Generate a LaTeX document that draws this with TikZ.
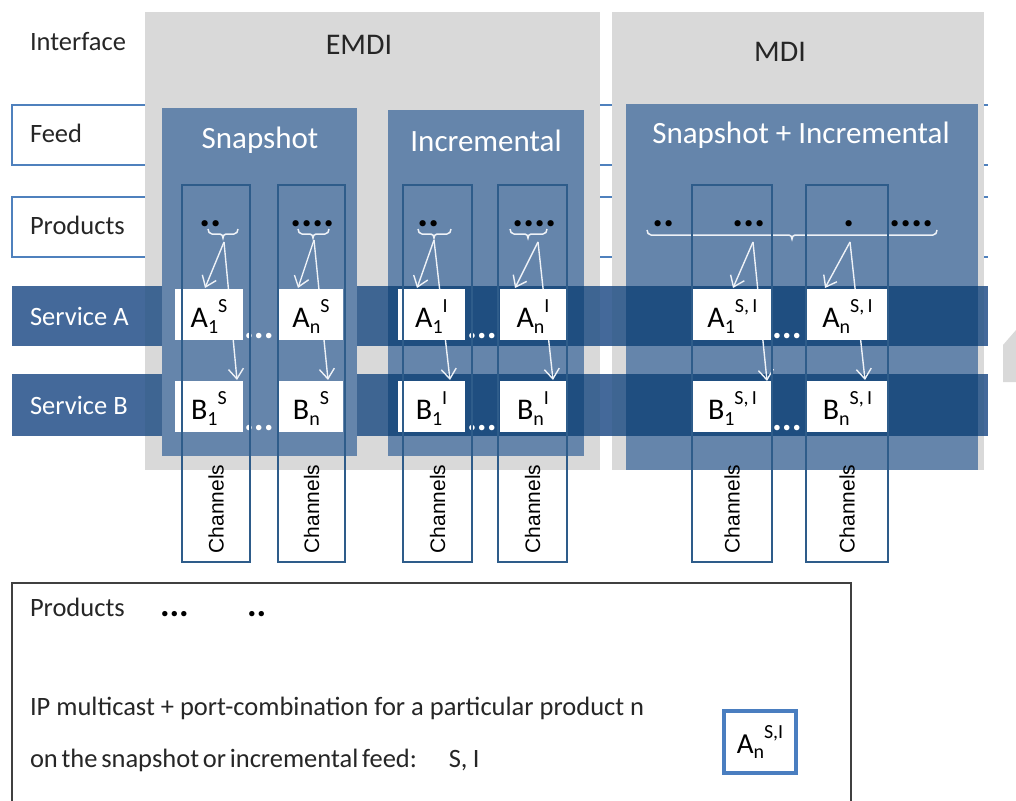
\documentclass[tikz,border=0pt]{standalone}
\usepackage{fontspec}
\setmainfont{Carlito}
\newfontfamily\arialf{Liberation Sans}
\usetikzlibrary{arrows.meta}
\definecolor{gpanel}{HTML}{D9D9D9}
\definecolor{bpanel}{HTML}{6585AB}
\definecolor{bandw}{HTML}{44699A}
\definecolor{bandg}{HTML}{3E6592}
\definecolor{bandd}{HTML}{1F4E80}
\definecolor{cline}{HTML}{2E5C8A}
\definecolor{fline}{HTML}{4F81BD}
\definecolor{lgbox}{HTML}{4A7EC0}
\definecolor{arr}{HTML}{EEF2F7}
\definecolor{txt}{HTML}{262626}
\definecolor{bline}{HTML}{404040}
\newcommand{\fs}[1]{\fontsize{#1}{#1}\selectfont}
\newcommand{\cellt}[3]{#1\raisebox{-0.2em}{\fs{20}#2}\raisebox{0.5em}{\fs{20}#3}}
\begin{document}
\begin{tikzpicture}[x=1pt,y=-1pt,
  every node/.style={inner sep=0pt,outer sep=0pt},
  rowbox/.style={fill=white},
  rowline/.style={draw=fline,line width=1.3pt},
  graypanel/.style={fill=gpanel},
  bluepanel/.style={fill=bpanel},
  cellbox/.style={fill=white,minimum height=51pt,text height=25pt,text depth=0pt,font=\fs{30},text=black},
  chancol/.style={draw=cline,line width=1.2pt},
  chanlbl/.style={rotate=90,font=\arialf\fs{21},text=black},
  lbl/.style={anchor=base west,font=\fs{26.5},text=txt},
  svc/.style={anchor=base west,font=\fs{26.5},text=white},
  ttl/.style={anchor=base,font=\fs{31},text=white},
  hdr/.style={anchor=base,font=\fs{30},text=txt},
  bdots/.style={anchor=base west,font=\fs{42}\bfseries,text=black},
  wdots/.style={anchor=base west,font=\fs{37}\bfseries,text=white},
  arrw/.style={draw=arr,line width=1.4pt,-{Straight Barb[length=10pt,width=15pt]}},
  bracel/.style={draw=arr,line width=1.5pt},
  bodytxt/.style={anchor=base west,font=\fs{26.5},text=txt},
]
\useasboundingbox (0,0) rectangle (1016,800);

% row boxes (right side hidden, only edge stubs show past the MDI panel)
\node[rowbox,anchor=north west,minimum width=976pt,minimum height=60pt] (feedbox) at (12,105) {};
\node[rowbox,anchor=north west,minimum width=976pt,minimum height=60pt] (prodbox) at (12,197) {};
\draw[rowline] (988,105) -| (12,165) -- (988,165);
\draw[rowline] (988,197) -| (12,257) -- (988,257);

% gray interface panels
\node[graypanel,anchor=north west,minimum width=455pt,minimum height=458pt] (emdi) at (145,12) {};
\node[graypanel,anchor=north west,minimum width=372pt,minimum height=458pt] (mdi) at (612,12) {};

% blue feed panels
\node[bluepanel,anchor=north west,minimum width=196pt,minimum height=346pt] (incr) at (388,110) {};
\node[bluepanel,anchor=north west,minimum width=352pt,minimum height=366pt] (snapincr) at (626,104) {};

% service bands, coloured as seen over each background
\foreach \yt/\h in {286/60,374/62} {
  \fill[bandw] (12,\yt) rectangle ++(976,\h);
  \fill[bandg] (145,\yt) rectangle ++(455,\h);
  \fill[bandg] (612,\yt) rectangle ++(372,\h);
  \fill[bandd] (388,\yt) rectangle ++(196,\h);
  \fill[bandd] (626,\yt) rectangle ++(352,\h);
}

% snapshot panel (over the bands)
\node[bluepanel,anchor=north west,minimum width=195pt,minimum height=348pt] (snap) at (162,108) {};

% titles
\node[hdr] (temdi) at (359,55) {EMDI};
\node[hdr] (tmdi) at (780,61) {MDI};
\node[ttl] (tsnap) at (260,148) {Snapshot};
\node[ttl] (tincr) at (486,151) {Incremental};
\node[ttl] (tsi) at (801,143) {Snapshot + Incremental};

% braces
\draw[bracel] (208,229) to[out=-90,in=180] (212,234) -- (220,234) to[out=0,in=90] (223,238) to[out=90,in=180] (226,234) -- (234,234) to[out=0,in=-90] (238,229);
\draw[bracel] (298,229) to[out=-90,in=180] (302,234) -- (310,234) to[out=0,in=90] (313,238) to[out=90,in=180] (316,234) -- (325,234) to[out=0,in=-90] (329,229);
\draw[bracel] (418,229) to[out=-90,in=180] (422,234) -- (431,234) to[out=0,in=90] (434,238) to[out=90,in=180] (437,234) -- (447,234) to[out=0,in=-90] (451,229);
\draw[bracel] (510,229) to[out=-90,in=180] (514,234) -- (525,234) to[out=0,in=90] (528,238) to[out=90,in=180] (531,234) -- (543,234) to[out=0,in=-90] (547,229);
\draw[bracel] (647,230) to[out=-90,in=180] (651,235) -- (789,235) to[out=0,in=90] (792,239) to[out=90,in=180] (795,235) -- (933,235) to[out=0,in=-90] (937,230);

% product dots
\node[bdots] (d1) at (199,226) {..};
\node[bdots] (d2) at (290,226) {....};
\node[bdots] (d3) at (417,226) {..};
\node[bdots] (d4) at (512,226) {....};
\node[bdots] (d5) at (652,226) {..};
\node[bdots] (d6) at (732,226) {...};
\node[bdots] (d7) at (843,226) {.};
\node[bdots] (d8) at (889,226) {....};

% arrow apexes and tips
\coordinate (ap1) at (224,242); \coordinate (ta1) at (205,288); \coordinate (tb1) at (237,380);
\coordinate (ap2) at (314,240); \coordinate (ta2) at (298,288); \coordinate (tb2) at (328,380);
\coordinate (ap3) at (434,240); \coordinate (ta3) at (417,288); \coordinate (tb3) at (450,380);
\coordinate (ap4) at (538,242); \coordinate (ta4) at (515,288); \coordinate (tb4) at (553,380);
\coordinate (ap5) at (753,242); \coordinate (ta5) at (733,288); \coordinate (tb5) at (767,381);
\coordinate (ap6) at (850,242); \coordinate (ta6) at (825,288); \coordinate (tb6) at (865,380);

% arrows to service B (pass behind A cells)
\foreach \i in {1,...,6} { \draw[arrw] (ap\i) -- (tb\i); }

% cells
\node[cellbox,minimum width=68pt] (a1s) at (209,314.5) {\cellt{A}{1}{S}};
\node[cellbox,minimum width=64pt] (ans) at (311,314.5) {\cellt{A}{n}{S}};
\node[cellbox,minimum width=67pt] (a1i) at (431.5,314.5) {\cellt{A}{1}{I}};
\node[cellbox,minimum width=66pt] (ani) at (533,314.5) {\cellt{A}{n}{I}};
\node[cellbox,minimum width=79pt] (a1si) at (732.5,314.5) {\cellt{A}{1}{S,\,I}};
\node[cellbox,minimum width=81pt] (ansi) at (847.5,314.5) {\cellt{A}{n}{S,\,I}};
\node[cellbox,minimum width=68pt] (b1s) at (209,406.5) {\cellt{B}{1}{S}};
\node[cellbox,minimum width=64pt] (bns) at (311,406.5) {\cellt{B}{n}{S}};
\node[cellbox,minimum width=67pt] (b1i) at (431.5,406.5) {\cellt{B}{1}{I}};
\node[cellbox,minimum width=66pt] (bni) at (533,406.5) {\cellt{B}{n}{I}};
\node[cellbox,minimum width=79pt] (b1si) at (732.5,406.5) {\cellt{B}{1}{S,\,I}};
\node[cellbox,minimum width=81pt] (bnsi) at (847.5,406.5) {\cellt{B}{n}{S,\,I}};

% arrows to service A
\foreach \i in {1,...,6} { \draw[arrw] (ap\i) -- (ta\i); }

% white dots between cells
\node[wdots] (wa1) at (244,338) {...};
\node[wdots] (wa2) at (467,338) {...};
\node[wdots] (wa3) at (772,338) {...};
\node[wdots] (wb1) at (244,430) {...};
\node[wdots] (wb2) at (467,430) {...};
\node[wdots] (wb3) at (772,430) {...};

% channel columns
\node[chancol,anchor=north west,minimum width=68pt,minimum height=377pt] (c1) at (182,185) {};
\node[chancol,anchor=north west,minimum width=67pt,minimum height=377pt] (c2) at (278,185) {};
\node[chancol,anchor=north west,minimum width=69pt,minimum height=377pt] (c3) at (403,185) {};
\node[chancol,anchor=north west,minimum width=69pt,minimum height=377pt] (c4) at (498,185) {};
\node[chancol,anchor=north west,minimum width=80pt,minimum height=377pt] (c5) at (692,185) {};
\node[chancol,anchor=north west,minimum width=82pt,minimum height=377pt] (c6) at (806,185) {};
\node[chanlbl] (l1) at (216,509) {Channels};
\node[chanlbl] (l2) at (311.5,509) {Channels};
\node[chanlbl] (l3) at (437.5,509) {Channels};
\node[chanlbl] (l4) at (532.5,509) {Channels};
\node[chanlbl] (l5) at (732,509) {Channels};
\node[chanlbl] (l6) at (847,509) {Channels};

% left labels
\node[lbl] (linterface) at (30,50) {Interface};
\node[lbl] (lfeed) at (30,142) {Feed};
\node[lbl] (lprod) at (30,234) {Products};
\node[svc] (lsa) at (30,325) {Service A};
\node[svc] (lsb) at (30,414) {Service B};

% right chevron fragment
\fill[gpanel] (1003,382) -- (1003,345) -- (1016,330) -- (1016,382) -- cycle;

% legend box
\draw[bline,line width=1.5pt] (12,810) -- (12,583) -- (851,583) -- (851,810);
\node[bodytxt] (bprod) at (30,616) {Products};
\node[anchor=base west,font=\fs{36}\bfseries,text=black] (bd1) at (160,616) {...};
\node[anchor=base west,font=\fs{36}\bfseries,text=black] (bd2) at (247,616) {..};
\node[bodytxt] (bt1) at (30,715) {IP multicast + port-combination for a particular product n};
\node[bodytxt] (bt2) at (30,767) {\spaceskip=0.14em on the snapshot or incremental feed:\hspace{1.2em}S,\hspace{0.2em}I};
\node[draw=lgbox,line width=4pt,fill=white,minimum width=72pt,minimum height=62pt,font=\fs{29},text height=22pt,text depth=0pt] (lg) at (760,742) {\cellt{A}{n}{S,I}};
\end{tikzpicture}
\end{document}
